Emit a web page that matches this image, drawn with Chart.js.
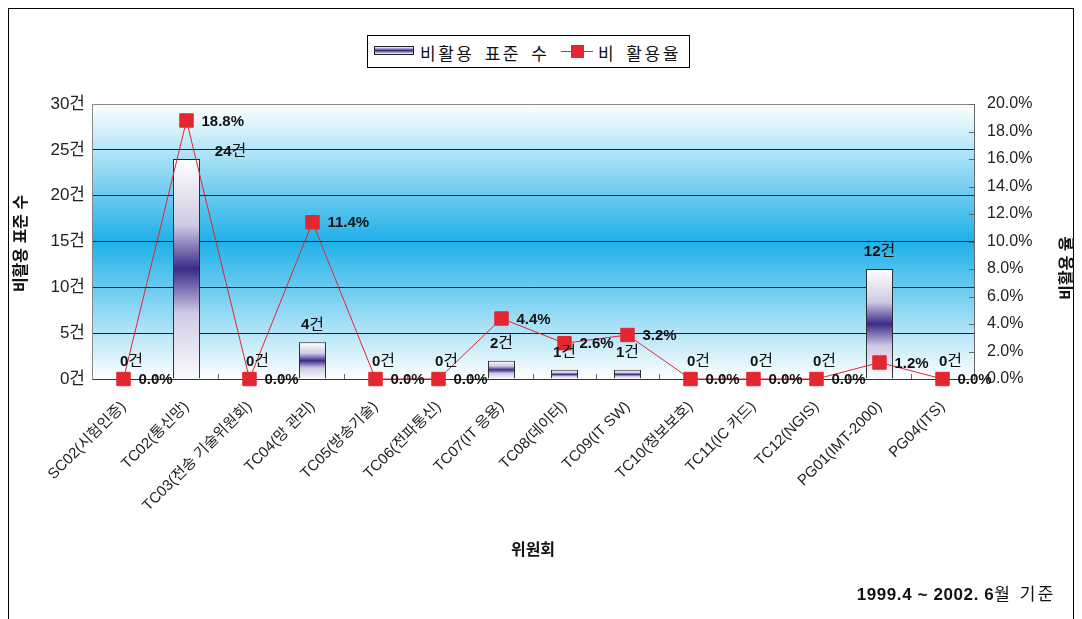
<!DOCTYPE html>
<html>
<head>
<meta charset="utf-8">
<script src="https://cdn.jsdelivr.net/npm/chart.js@4/dist/chart.umd.min.js"></script>
<style>
  html, body { margin: 0; padding: 0; background: #fff; }
  body { width: 1082px; height: 619px; position: relative; overflow: hidden;
         font-family: 'Liberation Sans', Arial, 'Noto Sans CJK KR', sans-serif; }
  #frame { position: absolute; left: 8px; top: 8px; width: 1066px; height: 640px; border: 1px solid #000; box-sizing: border-box; }
  #wrap { position: absolute; left: 0; top: 0; width: 1082px; height: 619px; }
  #legend { position: absolute; left: 367px; top: 35px; width: 323px; height: 33px; border: 1px solid #000;
            box-sizing: border-box; background: #fff; font-size: 17px; color: #111; letter-spacing: 2.5px; word-spacing: 3px; }
  #legend .item { position: absolute; top: 4px; white-space: nowrap; }
  #legend .barIcon { position: absolute; left: 6px; top: 10px; width: 40px; height: 9px; border: 1px solid #222; box-sizing: border-box;
            background: linear-gradient(#fff 0%, #3b2a88 50%, #fff 100%); }
  #legend .lineIcon { position: absolute; left: 193px; top: 15px; width: 32px; height: 1px; background: #e3262f; }
  #legend .lineIcon::after { content: ''; position: absolute; left: 10px; top: -6px; width: 13px; height: 13px; background: #e3262f; }
  #footer { position: absolute; right: 26px; top: 580px; font-size: 17px; color: #111; white-space: nowrap; }
  #footer b { letter-spacing: 0.6px; }
  #footer span { letter-spacing: 2.5px; }
</style>
</head>
<body>
<div id="frame"></div>
<div id="wrap"><canvas id="chart"></canvas></div>
<div id="legend">
  <div class="barIcon"></div>
  <div class="item" style="left:52px">비활용 표준 수</div>
  <div class="lineIcon"></div>
  <div class="item" style="left:230px">비 활용율</div>
</div>
<div id="footer"><b>1999.4 ~ 2002. 6</b><span>월 기준</span></div>
<script>
const FONT = "'Liberation Sans', Arial, 'Noto Sans CJK KR', sans-serif";

const committees = ['SC02(시험인증)', 'TC02(통신망)', 'TC03(전송 기술위원회)', 'TC04(망 관리)', 'TC05(방송기술)',
    'TC06(전파통신)', 'TC07(IT 응용)', 'TC08(데이터)', 'TC09(IT SW)', 'TC10(정보보호)',
    'TC11(IC 카드)', 'TC12(NGIS)', 'PG01(IMT-2000)', 'PG04(ITS)'];
const unusedCounts = [0, 24, 0, 4, 0, 0, 2, 1, 1, 0, 0, 0, 12, 0];
const unusedRates = [0, 18.8, 0, 11.4, 0, 0, 4.4, 2.6, 3.2, 0, 0, 0, 1.2, 0];

const leftTitle = '비활용 표준 수';
const rightTitle = '비활용 율';
const xTitle = '위원회';

// plot area background: white -> cyan -> white
const bgPlugin = {
    id: 'bg',
    beforeDraw(chart) {
        const { ctx, chartArea: a } = chart;
        const g = ctx.createLinearGradient(0, a.top, 0, a.bottom);
        g.addColorStop(0, '#ffffff');
        g.addColorStop(0.5, '#1fb0e8');
        g.addColorStop(1, '#ffffff');
        ctx.save();
        ctx.fillStyle = g;
        ctx.fillRect(a.left, a.top, a.right - a.left, a.bottom - a.top);
        ctx.restore();
    }
};

// small inward tick marks on the x axis and right axis
const tickPlugin = {
    id: 'ticks',
    beforeDatasetsDraw(chart) {
        const { ctx, chartArea: a, scales } = chart;
        ctx.save();
        ctx.strokeStyle = '#666';
        ctx.lineWidth = 1;
        ctx.beginPath();
        const step = scales.x.getPixelForValue(1) - scales.x.getPixelForValue(0);
        for (let i = 1; i < committees.length; i++) {
            const x = Math.round(scales.x.getPixelForValue(i) - step / 2) + 0.5;
            ctx.moveTo(x, a.bottom);
            ctx.lineTo(x, a.bottom - 5);
        }
        scales.y1.ticks.forEach(t => {
            const y = Math.round(scales.y1.getPixelForValue(t.value)) + 0.5;
            ctx.moveTo(a.right, y);
            ctx.lineTo(a.right - 5, y);
        });
        ctx.stroke();
        ctx.restore();
    }
};

// value labels and axis titles
const labelPlugin = {
    id: 'labels',
    afterDatasetsDraw(chart) {
        const ctx = chart.ctx;
        ctx.save();
        ctx.fillStyle = '#111';
        ctx.textBaseline = 'middle';

        chart.getDatasetMeta(0).data.forEach((el, i) => {
            const num = String(unusedCounts[i]);
            ctx.font = 'bold 15px ' + FONT;
            const w1 = ctx.measureText(num).width;
            ctx.font = '16px ' + FONT;
            const w2 = ctx.measureText('건').width;
            let x = el.x - (w1 + w2) / 2, y = el.y - 17;
            if (unusedCounts[i] === 0) x += 8;
            if (unusedCounts[i] > 20) { x += 44; y = el.y - 7; }
            ctx.textAlign = 'left';
            ctx.font = 'bold 15px ' + FONT;
            ctx.fillText(num, x, y);
            ctx.font = '16px ' + FONT;
            ctx.fillText('건', x + w1, y);
        });

        ctx.font = 'bold 15px ' + FONT;
        ctx.textAlign = 'left';
        chart.getDatasetMeta(1).data.forEach((el, i) => {
            ctx.fillText(unusedRates[i].toFixed(1) + '%', el.x + 15, el.y + 1);
        });

        const a = chart.chartArea;
        ctx.font = 'bold 16px ' + FONT;
        ctx.textAlign = 'center';
        ctx.save();
        ctx.translate(22, (a.top + a.bottom) / 2 + 2);
        ctx.rotate(-Math.PI / 2);
        ctx.fillText(leftTitle, 0, 0);
        ctx.restore();
        ctx.save();
        ctx.translate(1068, 268);
        ctx.rotate(-Math.PI / 2);
        ctx.fillText(rightTitle, 0, 0);
        ctx.restore();
        ctx.fillText(xTitle, (a.left + a.right) / 2, 551);
        ctx.restore();
    }
};

Chart.defaults.font.family = FONT;
Chart.defaults.color = '#222';

new Chart(document.getElementById('chart'), {
    data: {
        labels: committees,
        datasets: [
            {
                type: 'bar', label: '비활용 표준 수', data: unusedCounts, yAxisID: 'y', order: 2,
                barPercentage: 0.43, categoryPercentage: 1,
                borderColor: '#222',
                borderWidth: ctx => (ctx.raw > 0 ? 1 : 0),
                backgroundColor: ctx => {
                    const chart = ctx.chart;
                    if (!chart.chartArea || ctx.type !== 'data' || !(ctx.raw > 0)) return 'rgba(0,0,0,0)';
                    const ys = chart.scales.y;
                    const top = ys.getPixelForValue(ctx.raw), base = ys.getPixelForValue(0);
                    const g = chart.ctx.createLinearGradient(0, top, 0, base);
                    g.addColorStop(0, '#ffffff');
                    g.addColorStop(0.3, '#cfcae4');
                    g.addColorStop(0.5, '#3b2a88');
                    g.addColorStop(0.7, '#cfcae4');
                    g.addColorStop(1, '#fbfbfd');
                    return g;
                }
            },
            {
                type: 'line', label: '비 활용율', data: unusedRates, yAxisID: 'y1', order: 1,
                borderColor: '#e3262f', borderWidth: 1, tension: 0,
                pointStyle: 'rect', pointRadius: 9.5, pointHoverRadius: 9.5,
                pointBackgroundColor: '#e3262f', pointBorderColor: '#e3262f', pointBorderWidth: 1,
                clip: false
            }
        ]
    },
    options: {
        responsive: true, maintainAspectRatio: false, animation: false,
        layout: { padding: { top: 104, left: 0, right: 0, bottom: 0 } },
        plugins: { legend: { display: false }, tooltip: { enabled: false } },
        scales: {
            x: {
                offset: true,
                afterFit: s => { s.height = 240; },
                grid: { drawOnChartArea: false, drawTicks: false, color: 'rgba(0,0,0,0)' },
                border: { display: true, color: '#333' },
                ticks: { autoSkip: false, maxRotation: 45, minRotation: 45, padding: 19, font: { size: 15 }, color: '#222' }
            },
            y: {
                position: 'left', min: 0, max: 30,
                afterFit: s => { s.width = 92; },
                grid: { drawTicks: false, color: ctx => (ctx.tick && ctx.tick.value === 30 ? '#888' : '#222') },
                border: { display: true, color: '#888' },
                ticks: { stepSize: 5, padding: 7, font: { size: 17 }, color: '#222', callback: v => v + '건' }
            },
            y1: {
                position: 'right', min: 0, max: 20,
                afterFit: s => { s.width = 108; },
                grid: { drawOnChartArea: false, drawTicks: false },
                border: { display: true, color: '#666' },
                ticks: { stepSize: 2, padding: 13, font: { size: 16 }, color: '#222', callback: v => v.toFixed(1) + '%' }
            }
        }
    },
    plugins: [bgPlugin, tickPlugin, labelPlugin]
});
</script>
</body>
</html>
